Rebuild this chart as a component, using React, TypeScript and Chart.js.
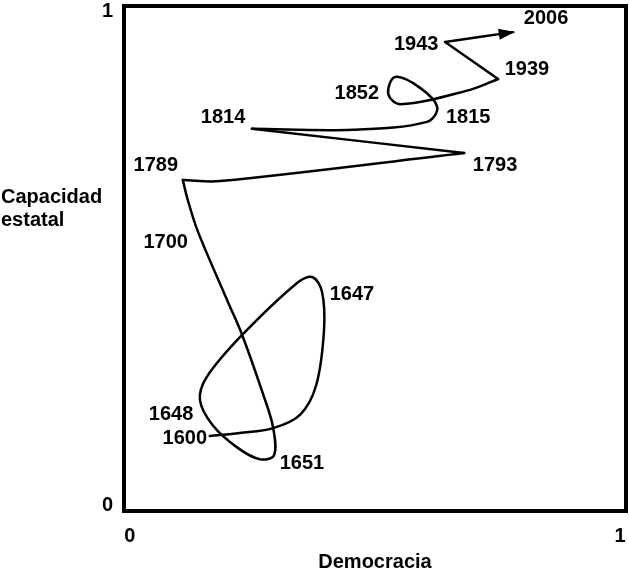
import React, { useEffect, useRef } from "react";
import { Chart, registerables } from "chart.js";

Chart.register(...registerables);

// Path of the trajectory (democracia = x, capacidad estatal = y), in chronological order
const pathX = [
  0.163, 0.224, 0.292, 0.347, 0.380, 0.396, 0.392, 0.373, 0.343, 0.229, 0.157,
  0.143, 0.169, 0.220, 0.265, 0.294, 0.292, 0.271, 0.229, 0.200, 0.139, 0.118,
  0.108, 0.184, 0.682, 0.249, 0.455, 0.606, 0.627, 0.592, 0.541, 0.527, 0.551,
  0.694, 0.751, 0.643, 0.782,
];
const pathY = [
  0.140, 0.146, 0.156, 0.183, 0.243, 0.355, 0.432, 0.462, 0.452, 0.345, 0.260,
  0.213, 0.162, 0.116, 0.093, 0.101, 0.158, 0.227, 0.345, 0.412, 0.554, 0.619,
  0.659, 0.657, 0.714, 0.763, 0.761, 0.777, 0.807, 0.846, 0.868, 0.834, 0.813,
  0.842, 0.864, 0.939, 0.959,
];
// Indices of the sharp turning points (1789, 1793, 1814, 1939, 1943)
const cornerIdx = [22, 24, 25, 34, 35];

// Year annotations (label text and where it sits in data coordinates)
const yearLabels = ["1600", "1647", "1648", "1651", "1700", "1789", "1793", "1814", "1815", "1852", "1939", "1943", "2006"];
const yearX = [0.112, 0.453, 0.084, 0.351, 0.073, 0.053, 0.745, 0.190, 0.690, 0.463, 0.810, 0.584, 0.849];
const yearY = [0.138, 0.430, 0.185, 0.087, 0.535, 0.690, 0.690, 0.787, 0.787, 0.836, 0.886, 0.937, 0.988];

const xTickValues = [0, 1];
const yTickValues = [0, 1];
const xTitle = "Democracia";
const yTitleLines = ["Capacidad", "estatal"];

const FAMILY = "'Liberation Sans', Arial, Helvetica, sans-serif";
const FONT_SIZE = 20;
const FONT_WEIGHT = "bold";

const decorPlugin = {
  id: "decor",
  beforeDatasetsDraw(chart: any) {
    const { ctx, chartArea: a } = chart;
    ctx.save();
    ctx.lineWidth = 4;
    ctx.strokeStyle = "#000";
    ctx.strokeRect(a.left, a.top, a.right - a.left, a.bottom - a.top);
    ctx.restore();
  },
  afterDatasetsDraw(chart: any) {
    const { ctx } = chart;
    const xs = chart.scales.x;
    const ys = chart.scales.y;
    const pts = chart.getDatasetMeta(chart.data.datasets.length - 1).data;
    const p1 = pts[pts.length - 2];
    const p2 = pts[pts.length - 1];
    const ang = Math.atan2(p2.y - p1.y, p2.x - p1.x);
    const len = 16;
    const half = 5.5;
    const tipX = p2.x + Math.cos(ang) * 1.5;
    const tipY = p2.y + Math.sin(ang) * 1.5;
    ctx.save();
    ctx.fillStyle = "#000";
    ctx.beginPath();
    ctx.moveTo(tipX, tipY);
    ctx.lineTo(
      tipX - Math.cos(ang) * len - Math.sin(ang) * half,
      tipY - Math.sin(ang) * len + Math.cos(ang) * half
    );
    ctx.lineTo(
      tipX - Math.cos(ang) * len + Math.sin(ang) * half,
      tipY - Math.sin(ang) * len - Math.cos(ang) * half
    );
    ctx.closePath();
    ctx.fill();

    ctx.font = `${FONT_WEIGHT} ${FONT_SIZE}px ${FAMILY}`;
    ctx.textAlign = "center";
    ctx.textBaseline = "middle";
    yearLabels.forEach((t, i) => {
      ctx.fillText(t, xs.getPixelForValue(yearX[i]), ys.getPixelForValue(yearY[i]) + 1);
    });

    ctx.textAlign = "left";
    ctx.textBaseline = "alphabetic";
    yTitleLines.forEach((t, i) => {
      ctx.fillText(t, 1, 203 + i * 23);
    });
    ctx.restore();
  },
};

function buildSegments() {
  const bounds = [0, ...cornerIdx, pathX.length - 1];
  const sets: any[] = [];
  for (let k = 0; k < bounds.length - 1; k++) {
    const pts = [];
    for (let i = bounds[k]; i <= bounds[k + 1]; i++) pts.push({ x: pathX[i], y: pathY[i] });
    sets.push({
      data: pts,
      showLine: true,
      borderColor: "#000",
      borderWidth: 2.5,
      borderCapStyle: "round",
      borderJoinStyle: "round",
      pointRadius: 0,
      tension: 0.35,
      fill: false,
    });
  }
  return sets;
}

export default function App() {
  const canvasRef = useRef<HTMLCanvasElement | null>(null);

  useEffect(() => {
    if (!canvasRef.current) return;
    const tickFont = { family: FAMILY, size: FONT_SIZE, weight: FONT_WEIGHT };
    const chart = new Chart(canvasRef.current, {
      type: "scatter",
      data: { datasets: buildSegments() },
      options: {
        responsive: false,
        animation: false,
        layout: { padding: { top: 6, right: 3, left: 0, bottom: 0 } },
        plugins: { legend: { display: false }, tooltip: { enabled: false } },
        scales: {
          x: {
            type: "linear",
            min: -0.012,
            max: 1.012,
            grid: { display: false, drawTicks: false },
            border: { display: false },
            afterBuildTicks: (s: any) => {
              s.ticks = xTickValues.map((v) => ({ value: v }));
            },
            afterFit: (s: any) => {
              s.height = 64;
              s.paddingLeft = 0;
              s.paddingRight = 0;
            },
            ticks: {
              padding: 13,
              color: "#000",
              font: tickFont,
              maxRotation: 0,
              autoSkip: false,
              callback: (v: any) => String(v),
            },
            title: {
              display: true,
              text: xTitle,
              color: "#000",
              font: tickFont,
              padding: { top: 0, bottom: 1 },
            },
          },
          y: {
            type: "linear",
            min: -0.012,
            max: 1.012,
            grid: { display: false, drawTicks: false },
            border: { display: false },
            afterBuildTicks: (s: any) => {
              s.ticks = yTickValues.map((v) => ({ value: v }));
            },
            afterFit: (s: any) => {
              s.width = 124;
              s.paddingTop = 0;
              s.paddingBottom = 0;
            },
            ticks: {
              padding: 11,
              color: "#000",
              font: tickFont,
              autoSkip: false,
              callback: (v: any) => String(v),
            },
          },
        },
      },
      plugins: [decorPlugin],
    });
    return () => chart.destroy();
  }, []);

  return (
    <div style={{ position: "fixed", left: 0, top: 0, width: 629, height: 575, background: "#fff" }}>
      <canvas ref={canvasRef} width={629} height={575} />
    </div>
  );
}
